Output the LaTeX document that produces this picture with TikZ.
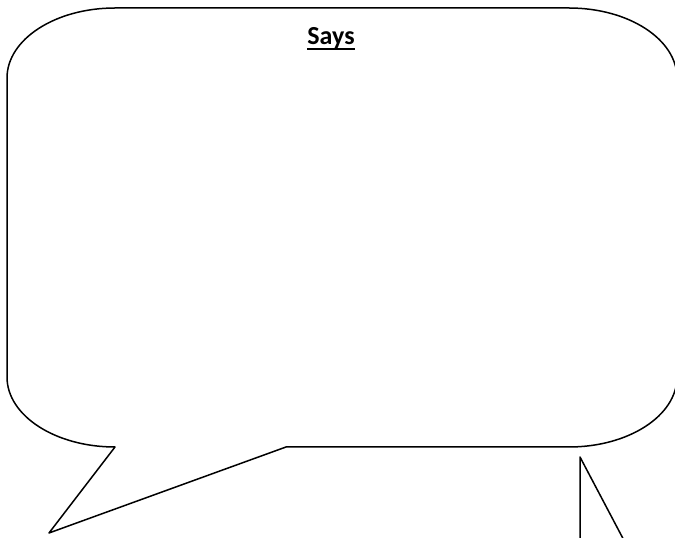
\documentclass[tikz,border=0pt]{standalone}
\usepackage{fontspec}
\setmainfont{Carlito}
\usetikzlibrary{calc}
\tikzset{
  bubble line/.style = {draw=black, line width=1.5pt, line join=round},
  title text/.style  = {font=\fontsize{26}{30}\selectfont\bfseries,
                         inner sep=0pt, anchor=base},
}

\begin{document}
\begin{tikzpicture}[x=1pt, y=1pt]
  \useasboundingbox (0,0) rectangle (675,538);
  \clip (0,0) rectangle (675,538);

  % speech bubble with tail
  \draw[bubble line] (569,530) -- (115,530)
      arc[start angle=90, end angle=180, x radius=108, y radius=70]
      -- (7,161)
      arc[start angle=180, end angle=270, x radius=108, y radius=70]
      -- (49,5) -- (286,91) -- (569,91)
      arc[start angle=270, end angle=360, x radius=108, y radius=70]
      -- (677,460)
      arc[start angle=0, end angle=90, x radius=108, y radius=70]
      -- cycle;

  % tail of a second bubble, cut off at the page edge
  \draw[bubble line] (580,-10) -- (580,81) -- (628,-10);

  \node[title text] (says) at (331,493) {Says};
  \draw[line width=2pt] ($(says.base west)+(0,-4)$) -- ($(says.base east)+(0,-4)$);
\end{tikzpicture}
\end{document}
